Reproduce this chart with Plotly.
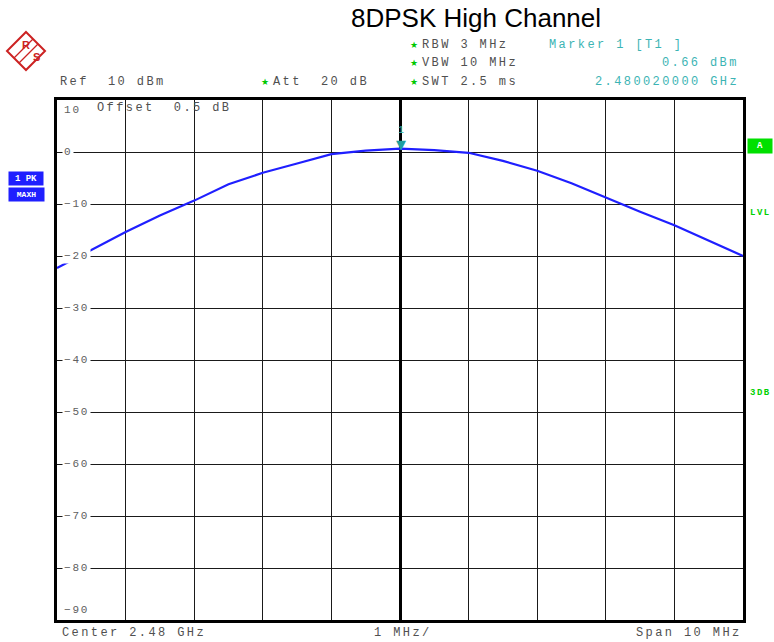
import plotly.graph_objects as go

# ---------------- data ----------------
center_ghz = 2.48
freq_offset_mhz = [-5.0, -4.5, -4.0, -3.5, -3.0, -2.5, -2.0, -1.5, -1.0, -0.5, 0.0,
                   0.5, 1.0, 1.5, 2.0, 2.5, 3.0, 3.5, 4.0, 4.5, 5.0]
level_dbm = [-22.3, -18.9, -15.4, -12.2, -9.35, -6.2, -4.0, -2.2, -0.4, 0.25, 0.66,
             0.35, -0.15, -1.7, -3.6, -6.0, -8.8, -11.5, -14.1, -17.0, -20.0]
marker_offset_mhz = [0.02]
marker_level_dbm = [0.66]
y_tick_values = [10, 0, -10, -20, -30, -40, -50, -60, -70, -80, -90]
y_tick_labels = ["10", "0", "\u221210", "\u221220", "\u221230", "\u221240",
                 "\u221250", "\u221260", "\u221270", "\u221280", "\u221290"]

# ---------------- layout helpers ----------------
W, H = 774, 642
L, R, T, B = 57, 743, 100, 620
MONO = "Liberation Mono, DejaVu Sans Mono, monospace"
GRAY = "#505050"
TEAL = "#3cb4b4"
GREEN = "#00c800"
BLUE = "#1f1fff"
RED = "#cc2222"


def px(x, y):
    return (x - L) / (R - L), (B - y) / (B - T)


def sp(text, ls=2.4):
    return f'<span style="letter-spacing:{ls}px">{text}</span>'


fig = go.Figure()
fig.add_trace(go.Scatter(x=freq_offset_mhz, y=level_dbm, mode="lines",
                         line=dict(color=BLUE, width=2.2), hoverinfo="skip"))

annotations = []


def text(x, y, s, color=GRAY, size=12, anchor="left", ls=2.4, family=MONO, **kw):
    xp, yp = px(x, y)
    annotations.append(dict(x=xp, y=yp, xref="paper", yref="paper", text=sp(s, ls) if ls else s,
                            showarrow=False, xanchor=anchor, yanchor="middle",
                            font=dict(family=family, size=size, color=color), **kw))


# title
text(476, 18, "8DPSK High Channel", color="#000000", size=26, anchor="center", ls=0,
     family="Liberation Sans, Arial, sans-serif")

# settings block
for yy, s in [(45, "RBW 3 MHz"), (63, "VBW 10 MHz"), (82, "SWT 2.5 ms")]:
    text(408, yy, "\u2605", color=GREEN, size=9, ls=0, family="DejaVu Sans")
    text(420, yy, s)
text(259, 82, "\u2605", color=GREEN, size=9, ls=0, family="DejaVu Sans")
text(271, 82, "Att  20 dB")
text(58, 82, "Ref  10 dBm")
text(547, 45, "Marker 1 [T1 ]", color=TEAL)
text(741, 63, "0.66 dBm", color=TEAL, anchor="right")
text(741, 82, "2.480020000 GHz", color=TEAL, anchor="right")
text(95, 108, "Offset  0.5 dB")

# bottom
text(60, 633, "Center 2.48 GHz")
text(403, 633, "1 MHz/", anchor="center")
text(744, 633, "Span 10 MHz", anchor="right")

# y tick labels inside the grid
for v, lab in zip(y_tick_values, y_tick_labels):
    shift = -10 if v == 10 else (10 if v == -90 else 0)
    annotations.append(dict(x=0, y=v, xref="paper", yref="y", text=sp(lab, 1.8),
                            showarrow=False, xanchor="left", yanchor="middle",
                            xshift=5, yshift=shift, bgcolor="white" if shift == 0 else None,
                            borderpad=1,
                            font=dict(family=MONO, size=11, color="#606060")))

# marker 1: triangle pointing at the trace, label above
annotations.append(dict(x=marker_offset_mhz[0], y=marker_level_dbm[0], xref="x", yref="y",
                        text="\u25bc", showarrow=False, yanchor="bottom", yshift=-5,
                        font=dict(family="DejaVu Sans", size=13, color="#20a0a0")))
annotations.append(dict(x=marker_offset_mhz[0], y=marker_level_dbm[0], xref="x", yref="y",
                        text="1", showarrow=False, yshift=18,
                        font=dict(family=MONO, size=10, color=TEAL)))


# side badges
def badge(x, y, w, h, s, bg, size=9):
    xp, yp = px(x, y)
    annotations.append(dict(x=xp, y=yp, xref="paper", yref="paper", text=f"<b>{s}</b>",
                            showarrow=False, xanchor="left", yanchor="middle",
                            width=w, height=h, bgcolor=bg, borderpad=0,
                            font=dict(family=MONO, size=size, color="white")))


badge(8, 178.5, 34, 13, "1 PK", BLUE)
badge(8, 194.5, 35, 13, "MAXH", BLUE, size=8)
badge(747, 146, 24, 14, "A", "#00e000")
text(748, 213, "<b>LVL</b>", color="#00d000", size=9, ls=1.5)
text(748, 393, "<b>3DB</b>", color="#00d000", size=9, ls=1.5)

# R&S logo
shapes = []
cx, cy, r = 26, 51, 19


def pstr(points):
    out = []
    for i, (x, y) in enumerate(points):
        xp, yp = px(x, y)
        out.append(("M" if i == 0 else "L") + f"{xp:.5f},{yp:.5f}")
    return " ".join(out)


shapes.append(dict(type="path", xref="paper", yref="paper",
                   path=pstr([(cx, cy - r), (cx + r, cy), (cx, cy + r), (cx - r, cy)]) + " Z",
                   line=dict(color=RED, width=2)))
for d in (-2.5, 2.5):
    shapes.append(dict(type="path", xref="paper", yref="paper",
                       path=pstr([(cx + d - 9.5, cy + d + 9.5), (cx + d + 9.5, cy + d - 9.5)]),
                       line=dict(color=RED, width=1.3)))
text(20, 45, "<b>R</b>", color=RED, size=11, ls=0, family="Liberation Sans, Arial")
text(31, 57, "<b>S</b>", color=RED, size=11, ls=0, family="Liberation Sans, Arial")

axis_common = dict(showgrid=True, gridcolor="#1a1a1a", gridwidth=1.4,
                   showline=True, mirror=True, linecolor="black", linewidth=2.5,
                   showticklabels=False, ticks="")

fig.update_layout(
    width=W, height=H,
    margin=dict(l=L, r=W - R, t=T, b=H - B),
    paper_bgcolor="white", plot_bgcolor="white",
    showlegend=False,
    xaxis=dict(range=[-5, 5], dtick=1, tick0=0, zeroline=True, zerolinecolor="black",
               zerolinewidth=2.5, **axis_common),
    yaxis=dict(range=[-90, 10], dtick=10, tick0=0, zeroline=False, **axis_common),
    annotations=annotations,
    shapes=shapes,
)

fig.write_html("out.html", config={"displayModeBar": False},
               post_script="document.body.style.margin='0';")
